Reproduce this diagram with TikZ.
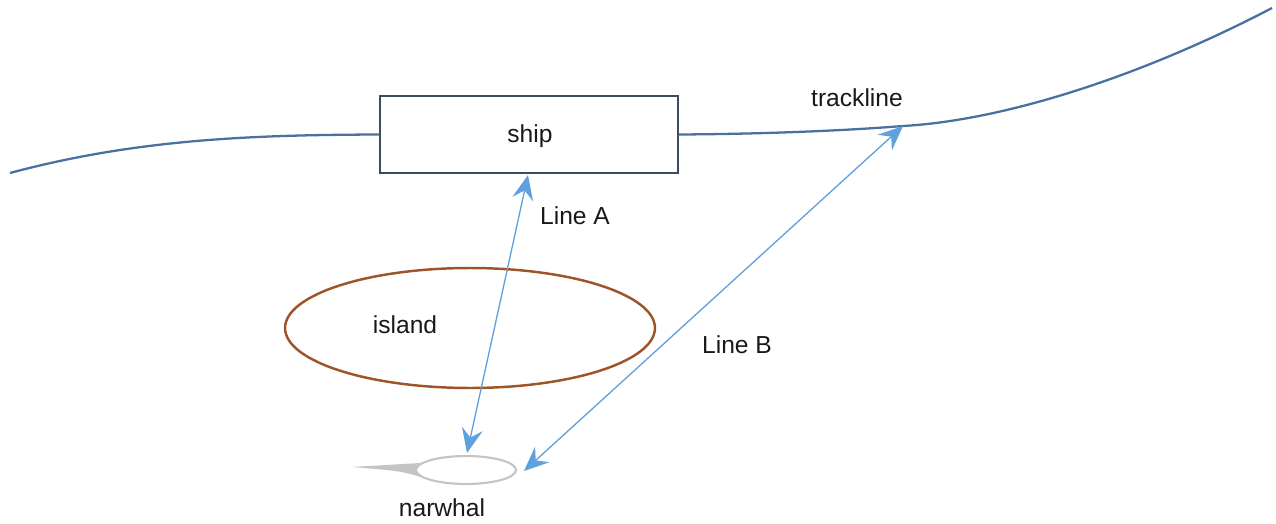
\documentclass[tikz,border=0pt]{standalone}
\usepackage{fontspec}
\setmainfont{Liberation Sans}
\usetikzlibrary{shapes.geometric,arrows.meta,calc}
\definecolor{trackblue}{RGB}{74,112,160}
\definecolor{boxedge}{RGB}{62,74,96}
\definecolor{islandbrown}{RGB}{158,84,40}
\definecolor{linkblue}{RGB}{96,160,222}
\definecolor{narwhalgray}{RGB}{196,196,196}
\tikzset{
  label text/.style={font=\fontsize{14}{16}\selectfont, text=black!90},
  track/.style={draw=trackblue, line width=1.3pt},
  link/.style={draw=linkblue, line width=0.75pt,
    {Stealth[length=14pt,width=12pt,inset=5pt]}-{Stealth[length=14pt,width=12pt,inset=5pt]}},
}
\begin{document}
\begin{tikzpicture}[x=0.02cm,y=-0.02cm]
  \useasboundingbox (0,0) rectangle (1276,524);

  % ship on the trackline
  \node[draw=boxedge, line width=1pt, fill=white, minimum width=5.96cm,
        minimum height=1.54cm, inner sep=0] (ship) at (529,134.5) {};
  \node[label text] (shiplabel) at (530,136) {ship};

  % trackline, left and right of the ship
  \coordinate (trackW) at (10,173);
  \coordinate (trackE) at (1272,8);
  \coordinate (fix) at (903,126);
  \draw[track] (trackW) .. controls (140,138) and (260,135) .. (ship.west);
  \draw[track] (ship.east) .. controls (760,134) and (840,131) .. (fix)
               .. controls (1010,120) and (1150,72) .. (trackE);
  \node[label text] (tracklabel) at (857,98) {trackline};

  % island
  \node[ellipse, draw=islandbrown, line width=1.4pt, minimum width=7.4cm,
        minimum height=2.4cm, inner sep=0] (island) at (470,328) {};
  \node[label text] (islandlabel) at (405,325) {island};

  % narwhal: tusk and body
  \coordinate (tusk) at (352,467);
  \fill[narwhalgray] (tusk) -- (420,463) .. controls (414,470) .. (421,477)
      .. controls (400,471) .. cycle;
  \node[ellipse, draw=narwhalgray, line width=1.2pt, fill=white, minimum width=2cm,
        minimum height=0.56cm, inner sep=0] (narwhal) at (466,470) {};
  \node[label text] (narwhallabel) at (442,508) {narwhal};

  % sight lines
  \coordinate (aTop) at (528,175);
  \coordinate (aBot) at (467,453);
  \coordinate (bBot) at (524,471);
  \draw[link] (aTop) -- (aBot);
  \draw[link] (fix) -- (bBot);
  \node[label text] (lineA) at (575,216) {Line A};
  \node[label text] (lineB) at (737,345) {Line B};
\end{tikzpicture}
\end{document}
